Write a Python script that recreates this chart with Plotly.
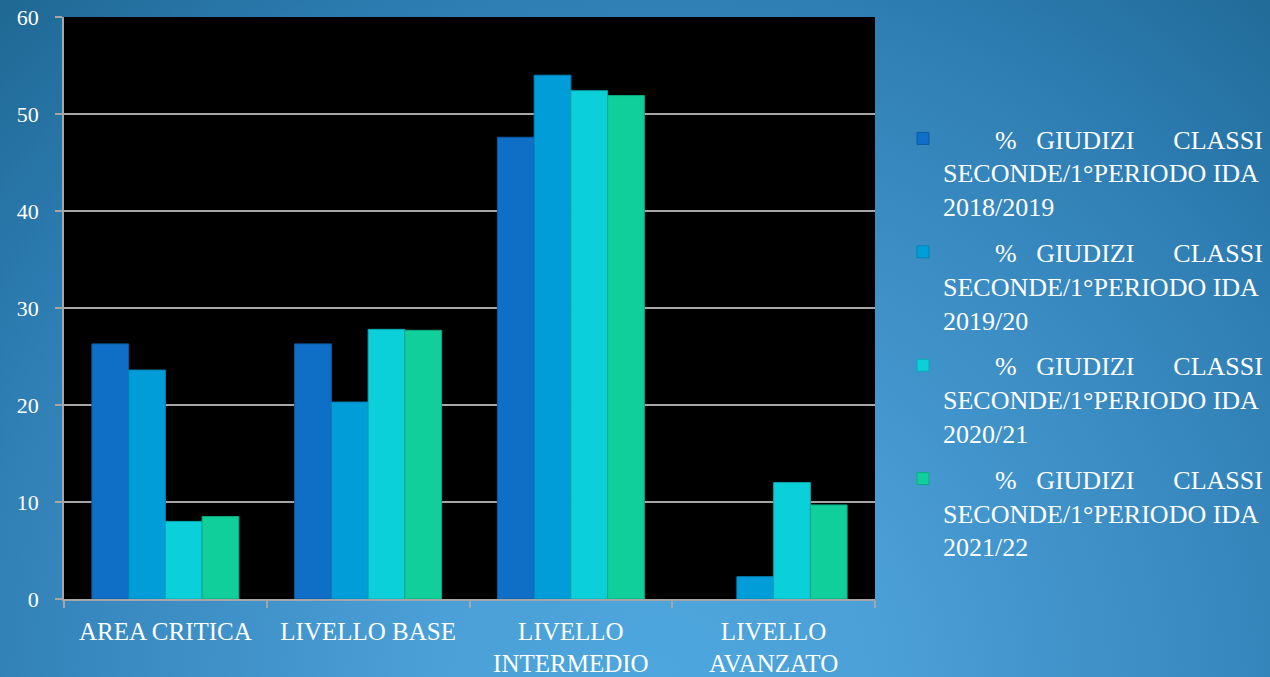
import base64
import plotly.graph_objects as go

# ---------------- data ----------------
categories = ["AREA CRITICA", "LIVELLO BASE", "LIVELLO<br>INTERMEDIO", "LIVELLO<br>AVANZATO"]
years = ["2018/2019", "2019/20", "2020/21", "2021/22"]
s_2018_2019 = [26.3, 26.3, 47.6, 0.0]
s_2019_20 = [23.6, 20.3, 54.0, 2.3]
s_2020_21 = [8.0, 27.8, 52.4, 12.0]
s_2021_22 = [8.5, 27.7, 51.9, 9.7]
y_ticks = [0, 10, 20, 30, 40, 50, 60]

series = [s_2018_2019, s_2019_20, s_2020_21, s_2021_22]
colors = ["#0F6FC6", "#009DD9", "#0BD0D9", "#10CF9B"]
edge_colors = ["#0B5AA3", "#0083B8", "#0AA9B3", "#0DAA80"]

NB = "\u00a0"
def legend_name(year):
    return (NB * 8 + "%" + NB * 3 + "GIUDIZI" + NB * 6 + "CLASSI<br>"
            + "SECONDE/1°PERIODO IDA<br>" + year)

W, H = 1270, 677
ML, MR, MT, MB = 64, 395, 17, 78
PW, PH = W - ML - MR, H - MT - MB

FONT = "Liberation Serif"

fig = go.Figure()
for i, (vals, yr) in enumerate(zip(series, years)):
    fig.add_trace(go.Bar(
        x=categories, y=vals, name=legend_name(yr),
        marker=dict(color=colors[i],
                    line=dict(color=edge_colors[i], width=[1 if v > 0 else 0 for v in vals])),
        legendgroup=f"g{i}",
    ))

# background gradient as an SVG image
svg = f'''<svg xmlns="http://www.w3.org/2000/svg" width="{W}" height="{H}" viewBox="0 0 {W} {H}" preserveAspectRatio="none">
<defs><radialGradient id="g" gradientUnits="userSpaceOnUse" cx="660" cy="690" r="975">
<stop offset="0" stop-color="#4da7de"/>
<stop offset="0.25" stop-color="#4a9fd6"/>
<stop offset="0.66" stop-color="#3383b9"/>
<stop offset="0.76" stop-color="#2c7bb0"/>
<stop offset="1" stop-color="#1d6690"/>
</radialGradient></defs>
<rect width="{W}" height="{H}" fill="url(#g)"/></svg>'''
src = "data:image/svg+xml;base64," + base64.b64encode(svg.encode()).decode()

fig.update_layout(
    width=W, height=H,
    margin=dict(l=ML, r=MR, t=MT, b=MB, autoexpand=False),
    paper_bgcolor="#2f7fb3",
    plot_bgcolor="rgba(0,0,0,0)",
    barmode="group", bargap=0.275, bargroupgap=0,
    font=dict(family=FONT, color="white"),
    images=[dict(source=src, xref="paper", yref="paper",
                 x=-ML / PW, y=1 + MT / PH, sizex=W / PW, sizey=H / PH,
                 xanchor="left", yanchor="top", sizing="stretch", layer="below")],
    shapes=[dict(type="rect", xref="paper", yref="paper", x0=0, x1=1, y0=0, y1=1,
                 fillcolor="black", line=dict(width=0), layer="below")],
    legend=dict(x=(903 - ML) / PW, xanchor="left", y=(599 - 115) / PH, yanchor="top",
                font=dict(family=FONT, size=26, color="white"),
                valign="top", tracegroupgap=9, bgcolor="rgba(0,0,0,0)",
                itemclick=False),
    showlegend=True,
)
fig.update_xaxes(
    type="category", showline=True, linecolor="#a6a6a6", linewidth=1.5,
    ticks="outside", tickson="boundaries", ticklen=7, tickcolor="#a6a6a6", tickwidth=1.5,
    showgrid=False, tickfont=dict(family=FONT, size=25, color="white"),
    ticklabelstandoff=9, automargin=False,
)
fig.update_yaxes(
    range=[0, 60], tickvals=y_ticks, showline=True, linecolor="#a6a6a6", linewidth=1.5,
    ticks="outside", ticklen=7, tickcolor="#a6a6a6", tickwidth=1.5,
    showgrid=True, gridcolor="#a6a6a6", gridwidth=1.5, zeroline=False,
    tickfont=dict(family=FONT, size=22, color="white"),
    ticklabelstandoff=12, automargin=False,
)

fig.write_html("out.html", config={"displayModeBar": False},
               post_script="document.body.style.margin='0px';")
